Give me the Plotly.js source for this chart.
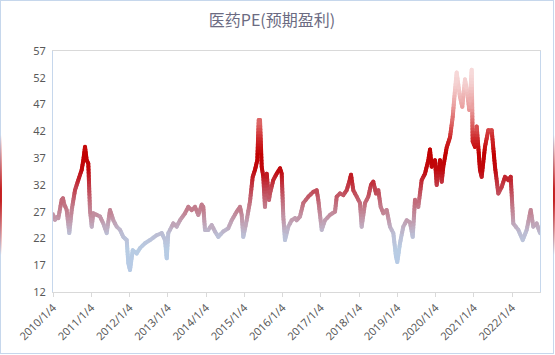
<!DOCTYPE html>
<html>
<head>
<meta charset="utf-8">
<script src="https://cdn.plot.ly/plotly-3.0.1.min.js"></script>
<style>
  html, body { margin: 0; padding: 0; background: #fff; }
  #wrap { position: relative; width: 555px; height: 355px; overflow: hidden; }
  #chart { position: absolute; left: 0; top: 0; width: 555px; height: 355px; }
  #frame { position: absolute; left: 0; top: 0; width: 552px; height: 352px; border: 1px solid #c6d7ec; pointer-events: none; }
  .glowL, .glowR { position: absolute; top: 135px; width: 2px; height: 120px; pointer-events: none;
    background: linear-gradient(to bottom, rgba(192,0,0,0), rgba(192,0,0,0.85) 45%, rgba(192,0,0,0.85) 55%, rgba(192,0,0,0)); }
  .glowL { left: 0; }
  .glowR { left: 553px; }
  .js-line { stroke-linecap: round !important; stroke-linejoin: round !important; }
</style>
</head>
<body>
<div id="wrap">
  <div id="chart"></div>
  <div id="frame"></div>
  <div class="glowL"></div>
  <div class="glowR"></div>
</div>
<script>
// time (decimal year) of each observation
const years = [
  2010.010, 2010.062, 2010.115, 2010.149, 2010.193, 2010.237, 2010.271, 2010.298, 2010.368, 2010.436,
  2010.499, 2010.585, 2010.671, 2010.760, 2010.802, 2010.847, 2010.891, 2010.933, 2010.977, 2011.022,
  2011.064, 2011.152, 2011.239, 2011.325, 2011.414, 2011.500, 2011.587, 2011.675, 2011.762, 2011.848,
  2011.937, 2011.979, 2012.023, 2012.094, 2012.198, 2012.285, 2012.415, 2012.546, 2012.721, 2012.852,
  2012.938, 2012.983, 2013.024, 2013.113, 2013.155, 2013.244, 2013.330, 2013.461, 2013.547, 2013.636,
  2013.722, 2013.809, 2013.898, 2013.939, 2013.984, 2014.070, 2014.159, 2014.245, 2014.332, 2014.462,
  2014.593, 2014.682, 2014.812, 2014.899, 2014.943, 2014.985, 2015.074, 2015.160, 2015.231, 2015.291,
  2015.351, 2015.388, 2015.422, 2015.466, 2015.508, 2015.552, 2015.597, 2015.657, 2015.683, 2015.769,
  2015.858, 2015.945, 2015.989, 2016.031, 2016.075, 2016.161, 2016.250, 2016.337, 2016.381, 2016.468,
  2016.554, 2016.685, 2016.815, 2016.904, 2016.946, 2017.035, 2017.121, 2017.252, 2017.383, 2017.427,
  2017.513, 2017.600, 2017.688, 2017.756, 2017.801, 2017.861, 2017.950, 2018.036, 2018.080, 2018.167,
  2018.253, 2018.324, 2018.384, 2018.455, 2018.515, 2018.577, 2018.645, 2018.734, 2018.820, 2018.907,
  2018.977, 2019.011, 2019.082, 2019.168, 2019.257, 2019.343, 2019.414, 2019.474, 2019.560, 2019.649,
  2019.735, 2019.822, 2019.866, 2019.910, 2019.997, 2020.041, 2020.128, 2020.172, 2020.214, 2020.303,
  2020.389, 2020.460, 2020.520, 2020.564, 2020.650, 2020.711, 2020.781, 2020.841, 2020.893, 2020.956,
  2020.982, 2021.042, 2021.087, 2021.129, 2021.173, 2021.217, 2021.304, 2021.390, 2021.479, 2021.565,
  2021.652, 2021.740, 2021.827, 2021.913, 2021.976, 2022.044, 2022.175, 2022.290, 2022.394, 2022.499,
  2022.567, 2022.655, 2022.742
];
// 医药PE (预期盈利)
const pe = [
  26.5, 25.5, 26.0, 25.8, 27.5, 29.2, 29.5, 28.5, 27.3, 23.0,
  27.3, 31.0, 32.9, 34.8, 36.6, 39.1, 36.6, 36.0, 27.3, 24.2,
  26.7, 26.4, 26.1, 24.8, 23.0, 27.3, 25.4, 24.2, 23.6, 22.3,
  21.7, 17.4, 16.1, 19.8, 19.2, 20.2, 21.1, 21.7, 22.6, 23.0,
  21.7, 18.3, 23.0, 24.2, 24.8, 24.2, 25.4, 26.7, 27.9, 27.3,
  27.9, 26.4, 28.3, 27.9, 23.6, 23.6, 24.5, 23.3, 22.3, 23.3,
  23.9, 25.4, 27.0, 27.9, 26.4, 22.3, 25.4, 28.9, 33.5, 34.8,
  36.6, 44.1, 44.1, 35.4, 33.5, 27.9, 34.1, 29.2, 30.4, 32.9,
  34.1, 35.1, 34.1, 26.1, 21.7, 24.2, 25.4, 25.8, 25.4, 26.1,
  28.6, 29.8, 30.7, 31.0, 29.2, 23.6, 25.4, 26.4, 27.0, 29.8,
  30.4, 30.1, 31.0, 32.6, 33.9, 31.0, 29.8, 28.6, 24.2, 28.6,
  29.8, 32.0, 32.6, 30.4, 31.0, 27.9, 26.7, 27.3, 24.2, 23.0,
  18.6, 17.6, 21.1, 24.2, 25.4, 25.0, 22.3, 29.2, 27.9, 32.9,
  34.1, 36.6, 38.6, 35.4, 36.6, 32.0, 36.6, 32.6, 35.4, 39.0,
  40.9, 44.7, 49.7, 53.0, 48.4, 46.6, 51.7, 49.2, 46.0, 53.5,
  40.1, 39.1, 42.9, 39.1, 34.8, 33.5, 39.1, 42.2, 42.2, 35.4,
  30.4, 31.6, 33.5, 32.9, 33.5, 24.8, 23.6, 21.7, 23.6, 27.3,
  24.2, 24.8, 23.0
];
const tickYears = [2010,2011,2012,2013,2014,2015,2016,2017,2018,2019,2020,2021,2022];
const tickLabels = tickYears.map(y => y + '/1/4');
const yTicks = [12,17,22,27,32,37,42,47,52,57];
const chartTitle = '医药PE(预期盈利)';

// colour gradient by value (bottom blue -> red -> pale at top)
const stops = [
  [12, [180,199,231]], [20, [184,204,228]], [23, [188,190,212]], [26, [194,150,168]],
  [29, [194,110,125]], [32, [193,60,72]], [35, [192,10,15]], [38, [194,0,0]],
  [41, [205,40,42]], [44, [220,100,100]], [47, [234,160,160]], [51, [244,206,206]],
  [57, [252,240,240]]
];
function colorAt(v) {
  if (v <= stops[0][0]) return stops[0][1];
  for (let i = 1; i < stops.length; i++) {
    if (v <= stops[i][0]) {
      const a = stops[i-1], b = stops[i];
      const t = (v - a[0]) / (b[0] - a[0]);
      return a[1].map((c, k) => Math.round(c + (b[1][k] - c) * t));
    }
  }
  return stops[stops.length-1][1];
}
const binW = 0.6;
const bins = {};
for (let i = 0; i < pe.length - 1; i++) {
  const x0 = years[i], y0 = pe[i], x1 = years[i+1], y1 = pe[i+1];
  const n = Math.max(1, Math.ceil(Math.abs(y1 - y0) / binW));
  for (let j = 0; j < n; j++) {
    const ta = j / n, tb = (j + 1) / n;
    const xa = x0 + (x1 - x0) * ta, ya = y0 + (y1 - y0) * ta;
    const xb = x0 + (x1 - x0) * tb, yb = y0 + (y1 - y0) * tb;
    const key = Math.floor(((ya + yb) / 2) / binW);
    if (!bins[key]) bins[key] = {x: [], y: []};
    bins[key].x.push(xa, xb, null);
    bins[key].y.push(ya, yb, null);
  }
}
const traces = Object.keys(bins).map(k => {
  const c = colorAt((+k + 0.5) * binW);
  return {
    type: 'scatter', mode: 'lines', x: bins[k].x, y: bins[k].y,
    line: {color: 'rgb(' + c.join(',') + ')', width: 4},
    connectgaps: false, hoverinfo: 'skip', showlegend: false
  };
});

const layout = {
  width: 555, height: 355,
  margin: {l: 53, r: 15, t: 51, b: 63},
  paper_bgcolor: '#ffffff', plot_bgcolor: '#ffffff',
  showlegend: false,
  title: {
    text: chartTitle, x: 0.49, xanchor: 'center', y: 0.943, yanchor: 'middle',
    font: {family: '"Noto Sans CJK SC", "Noto Sans", sans-serif', size: 16, color: '#6b6b82'}
  },
  xaxis: {
    range: [2010.01, 2022.742],
    tickmode: 'array', tickvals: tickYears.map(y => y + 0.01), ticktext: tickLabels,
    tickangle: -45, ticks: 'outside', ticklen: 4, tickcolor: '#d9d9d9',
    showgrid: false, zeroline: false,
    showline: true, linecolor: '#d9d9d9', linewidth: 1, mirror: true,
    tickfont: {family: '"Noto Sans", "DejaVu Sans", sans-serif', size: 11, color: '#595959'}
  },
  yaxis: {
    range: [12, 57],
    tickmode: 'array', tickvals: yTicks, ticktext: yTicks.map(String),
    ticks: '', showgrid: false, zeroline: false,
    showline: true, linecolor: '#c6d7ec', linewidth: 1, mirror: true,
    ticklabelstandoff: 4,
    tickfont: {family: '"Noto Sans", "DejaVu Sans", sans-serif', size: 11, color: '#595959'}
  }
};
Plotly.newPlot('chart', traces, layout, {staticPlot: true, displayModeBar: false});
</script>
</body>
</html>
